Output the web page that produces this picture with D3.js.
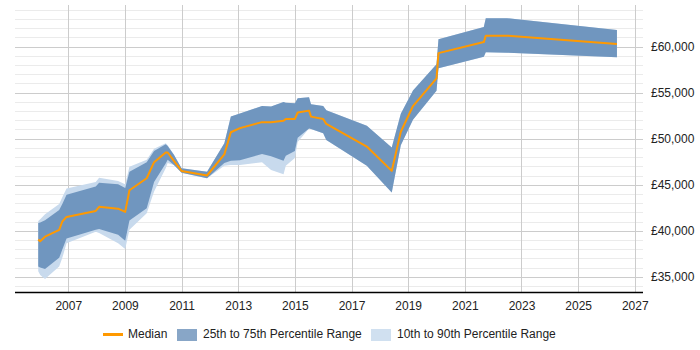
<!DOCTYPE html>
<html>
<head>
<meta charset="utf-8">
<script src="https://cdn.jsdelivr.net/npm/d3@7"></script>
<style>
    body { margin: 0; background: #fff; }
    svg text { font-family: "Liberation Sans", Arial, sans-serif; font-size: 12px; fill: #222; }
</style>
</head>
<body>
<div id="chart"></div>
<script>
// sample dates as decimal years
const dates = [2005.94, 2006.01, 2006.18, 2006.68, 2006.79, 2006.94, 2007.97, 2008.09, 2008.76, 2009.01,
    2009.16, 2009.77, 2010.03, 2010.44, 2010.51, 2010.73, 2011.0, 2011.90, 2012.51, 2012.74,
    2013.06, 2013.84, 2014.16, 2014.60, 2014.68, 2015.0, 2015.10, 2015.50, 2015.57, 2016.0,
    2016.11, 2017.54, 2018.42, 2018.74, 2019.17, 2020.0, 2020.07, 2021.67, 2021.74, 2022.49, 2026.37];

const median = [39050, 38850, 39350, 40100, 41000, 41500, 42150, 42600, 42400, 42050,
    44400, 45700, 47450, 48500, 48500, 47600, 46500, 46000, 48300, 50700,
    51150, 51800, 51800, 51950, 52150, 52150, 52850, 53050, 52400, 52150,
    51600, 49150, 46500, 50750, 53550, 56550, 59300, 60500, 61200, 61200, 60300];

const p75 = [40850, 40900, 41150, 42250, 42900, 43900, 44800, 45200, 45050, 44650,
    46400, 47450, 48650, 49400, 49200, 48250, 46800, 46400, 49500, 52400,
    52750, 53550, 53500, 54000, 53900, 53850, 54400, 54500, 53750, 53550,
    53100, 51400, 49050, 52700, 55250, 58100, 60800, 62150, 63100, 63100, 61800];

const p25 = [36100, 36000, 35850, 37050, 37950, 39150, 40100, 40200, 39550, 38900,
    41100, 42450, 45300, 47300, 47700, 47150, 46300, 45700, 47350, 47600,
    47650, 48350, 48100, 47600, 48150, 48650, 50100, 51100, 51050, 50600,
    49850, 47050, 44150, 49300, 52050, 55200, 57650, 58900, 59400, 59350, 58850];

const p90 = [41050, 41250, 41800, 42900, 43650, 44600, 45300, 45750, 45400, 45050,
    46950, 47700, 48900, 49500, 49300, 48250, 46800, 46400, 49500, 52400,
    52750, 53550, 53500, 54000, 53900, 53850, 54400, 54500, 53750, 53550,
    53100, 51400, 49050, 52700, 55250, 58100, 60800, 62150, 63100, 63100, 61800];

const p10 = [35600, 35200, 34750, 36100, 37050, 38650, 39900, 39750, 38650, 38000,
    40100, 41900, 44250, 46800, 47350, 47150, 46300, 45700, 47050, 47150,
    47150, 47450, 46600, 46150, 47050, 47900, 49650, 51100, 51050, 50600,
    49850, 47050, 44150, 49300, 52050, 55200, 57650, 58900, 59400, 59350, 58850];

const yearTicks = [2007, 2009, 2011, 2013, 2015, 2017, 2019, 2021, 2023, 2025, 2027];
const salaryTicks = [35000, 40000, 45000, 50000, 55000, 60000];
const legendLabels = ["Median", "25th to 75th Percentile Range", "10th to 90th Percentile Range"];

const WIDTH = 700;
const HEIGHT = 350;
const plot = { left: 15, right: 643, top: 5, bottom: 292 };
const colours = {
    median: "#ff9900",
    inner: "#7096bf",
    outer: "#c8daed",
    innerKey: "#88a6c7",
    outerKey: "#d0e0f0",
    gridMajor: "#cccccc",
    gridMinor: "#ebebeb"
};

function drawChart() {
    let svg = d3.select("#chart")
        .append("svg")
            .attr("width", WIDTH)
            .attr("height", HEIGHT);

    const x = d3.scaleLinear()
        .domain([2005.12, 2027.29])
        .range([plot.left, plot.right]);
    const y = d3.scaleLinear()
        .domain([33340, 64530])
        .range([plot.bottom, plot.top]);

    drawGrid(svg, x, y);
    drawBands(svg, x, y);
    drawAxes(svg, x, y);
    drawLegend(svg);
}

function drawGrid(svg, x, y) {
    let minor = d3.range(34000, 64001, 1000).filter(v => v % 5000 != 0);

    svg.append("g")
        .selectAll("line")
        .data(minor)
        .enter()
        .append("line")
            .attr("x1", plot.left)
            .attr("x2", plot.right)
            .attr("y1", d => Math.round(y(d)) + 0.5)
            .attr("y2", d => Math.round(y(d)) + 0.5)
            .attr("stroke", colours.gridMinor);

    svg.append("g")
        .selectAll("line")
        .data(salaryTicks)
        .enter()
        .append("line")
            .attr("x1", plot.left)
            .attr("x2", plot.right)
            .attr("y1", d => Math.round(y(d)) + 0.5)
            .attr("y2", d => Math.round(y(d)) + 0.5)
            .attr("stroke", colours.gridMajor);

    svg.append("g")
        .selectAll("line")
        .data(yearTicks)
        .enter()
        .append("line")
            .attr("x1", d => Math.round(x(d)) + 0.5)
            .attr("x2", d => Math.round(x(d)) + 0.5)
            .attr("y1", plot.top)
            .attr("y2", plot.bottom)
            .attr("stroke", colours.gridMajor);
}

function drawBands(svg, x, y) {
    let rows = dates.map((d, i) => ({ t: d, med: median[i], lo: p25[i], hi: p75[i], lo2: p10[i], hi2: p90[i] }));

    let outer = d3.area()
        .x(d => x(d.t))
        .y0(d => y(d.lo2))
        .y1(d => y(d.hi2));
    let inner = d3.area()
        .x(d => x(d.t))
        .y0(d => y(d.lo))
        .y1(d => y(d.hi));
    let line = d3.line()
        .x(d => x(d.t))
        .y(d => y(d.med));

    svg.append("path")
        .datum(rows)
        .attr("d", outer)
        .attr("fill", colours.outer);
    svg.append("path")
        .datum(rows)
        .attr("d", inner)
        .attr("fill", colours.inner);
    svg.append("path")
        .datum(rows)
        .attr("d", line)
        .attr("fill", "none")
        .attr("stroke", colours.median)
        .attr("stroke-width", 2)
        .attr("stroke-linejoin", "round");
}

function drawAxes(svg, x, y) {
    let xAxis = d3.axisBottom(x)
        .tickValues(yearTicks)
        .tickSize(0)
        .tickPadding(9)
        .tickFormat(d => d.toString());

    let gx = svg.append("g")
        .attr("transform", `translate(0, ${ plot.bottom + 0.5 })`)
        .call(xAxis);
    gx.select(".domain")
        .attr("d", `M${ plot.left },0H${ plot.right }`)
        .attr("stroke", "#000")
        .attr("stroke-width", 1.5);
    gx.selectAll("text")
        .style("font-size", "12px")
        .attr("fill", "#222");

    let yAxis = d3.axisRight(y)
        .tickValues(salaryTicks)
        .tickSize(0)
        .tickPadding(8)
        .tickFormat(d => "£" + d3.format(",")(d));

    let gy = svg.append("g")
        .attr("transform", `translate(${ plot.right }, 0)`)
        .call(yAxis);
    gy.select(".domain").remove();
    gy.selectAll("text")
        .style("font-size", "12px")
        .attr("fill", "#222");
}

function drawLegend(svg) {
    let legend = svg.append("g")
        .attr("transform", "translate(0, 334)");

    legend.append("line")
        .attr("x1", 103)
        .attr("x2", 123)
        .attr("y1", 0.5)
        .attr("y2", 0.5)
        .attr("stroke", colours.median)
        .attr("stroke-width", 3);
    legend.append("text")
        .attr("x", 128)
        .attr("y", 4)
        .text(legendLabels[0]);

    legend.append("rect")
        .attr("x", 177)
        .attr("y", -5)
        .attr("width", 20)
        .attr("height", 12)
        .attr("fill", colours.innerKey);
    legend.append("text")
        .attr("x", 203)
        .attr("y", 4)
        .text(legendLabels[1]);

    legend.append("rect")
        .attr("x", 371)
        .attr("y", -5)
        .attr("width", 20)
        .attr("height", 12)
        .attr("fill", colours.outerKey);
    legend.append("text")
        .attr("x", 397)
        .attr("y", 4)
        .text(legendLabels[2]);
}

drawChart();
</script>
</body>
</html>
